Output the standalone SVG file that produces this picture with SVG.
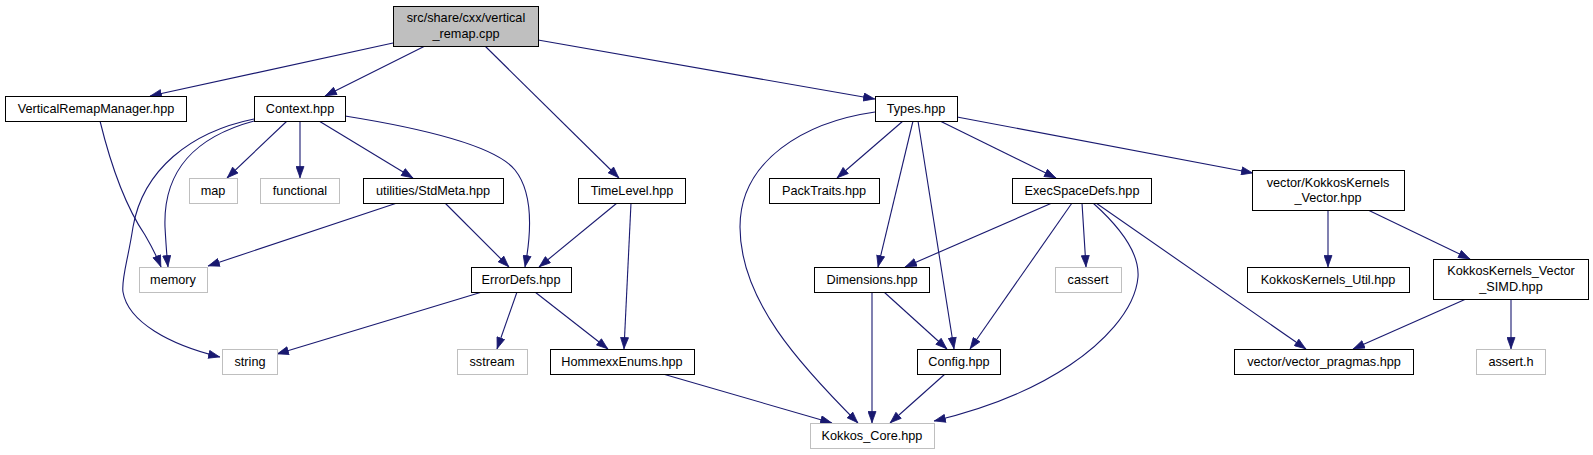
<svg xmlns="http://www.w3.org/2000/svg" width="1593" height="455" viewBox="0 0 1593 455">
<style>
.n rect{fill:#ffffff;stroke:#000000;stroke-width:1}
.n.g rect{stroke:#bfbfbf}
.n.root rect{fill:#bfbfbf}
.n text{font-family:"Liberation Sans",Arial,sans-serif;font-size:12.7px;fill:#000000;text-anchor:middle}
.e path{fill:none;stroke:#191970;stroke-width:1.1;marker-end:url(#ah)}
</style>
<defs>
<marker id="ah" viewBox="0 0 12 9" refX="12" refY="4.5" markerWidth="12" markerHeight="9" markerUnits="userSpaceOnUse" orient="auto">
<path d="M0.5,0.5 L11.5,4.5 L0.5,8.5 z" fill="#191970" stroke="#191970" stroke-width="0.8"/>
</marker>
</defs>
<rect width="1593" height="455" fill="#ffffff"/>
<g id="connectors" class="e">
<path d="M393,43 L150,96"/>
<path d="M425,46 L325,96"/>
<path d="M485,46 L619,178"/>
<path d="M538,40 L875,99"/>
<path d="M957,117 L1253,173"/>
<path d="M903,121 L837,178"/>
<path d="M875,112 C805,122 740,160 740,227 C740,300 800,365 858,423"/>
<path d="M913,121 L878,267"/>
<path d="M918,121 L954,349"/>
<path d="M940,121 L1056,178"/>
<path d="M287,121 L227,178"/>
<path d="M300,121 L300,178"/>
<path d="M319,121 L413,178"/>
<path d="M345,116 C420,128 495,145 515,170 C535,195 530,240 525,267"/>
<path d="M254,121 C195,137 163,170 165,227 C166,245 167,258 168,267"/>
<path d="M254,119 C190,132 143,170 133,227 C128,260 121,280 123,292 C128,322 170,345 220,357"/>
<path d="M100,121 C112,170 128,210 145,235 C152,247 157,257 161,267"/>
<path d="M397,203 L208,266"/>
<path d="M445,203 L509,267"/>
<path d="M617,203 L539,267"/>
<path d="M631,203 L624,349"/>
<path d="M482,292 L277,354"/>
<path d="M517,292 L497,349"/>
<path d="M535,292 L608,349"/>
<path d="M663,374 L832,423"/>
<path d="M872,292 L872,423"/>
<path d="M884,292 L947,349"/>
<path d="M945,374 L890,423"/>
<path d="M1052,203 L905,267"/>
<path d="M1072,203 L970,349"/>
<path d="M1082,203 L1086,267"/>
<path d="M1093,203 C1112,220 1140,248 1138,277 C1135,312 1100,345 1070,365 C1030,392 980,410 934,421"/>
<path d="M1096,203 L1306,349"/>
<path d="M1328,210 L1328,267"/>
<path d="M1368,210 L1470,259"/>
<path d="M1466,299 L1353,349"/>
<path d="M1511,299 L1511,349"/>
</g>
<g id="root" class="n root"><rect x="393.5" y="6.5" width="145" height="40"/><text x="466" y="22">src/share/cxx/vertical</text><text x="466" y="38">_remap.cpp</text></g>
<g id="VerticalRemapManager" class="n"><rect x="5.5" y="96.5" width="181" height="25"/><text x="96" y="113">VerticalRemapManager.hpp</text></g>
<g id="Context" class="n"><rect x="254.5" y="96.5" width="91" height="25"/><text x="300" y="113">Context.hpp</text></g>
<g id="Types" class="n"><rect x="875.5" y="96.5" width="82" height="25"/><text x="916" y="113">Types.hpp</text></g>
<g id="map" class="n g"><rect x="189.5" y="178.5" width="48" height="25"/><text x="213" y="195">map</text></g>
<g id="functional" class="n g"><rect x="260.5" y="178.5" width="79" height="25"/><text x="300" y="195">functional</text></g>
<g id="StdMeta" class="n"><rect x="363.5" y="178.5" width="140" height="25"/><text x="433" y="195">utilities/StdMeta.hpp</text></g>
<g id="TimeLevel" class="n"><rect x="578.5" y="178.5" width="107" height="25"/><text x="632" y="195">TimeLevel.hpp</text></g>
<g id="PackTraits" class="n"><rect x="769.5" y="178.5" width="110" height="25"/><text x="824" y="195">PackTraits.hpp</text></g>
<g id="ExecSpaceDefs" class="n"><rect x="1012.5" y="178.5" width="139" height="25"/><text x="1082" y="195">ExecSpaceDefs.hpp</text></g>
<g id="KokkosKernelsVector" class="n"><rect x="1252.5" y="170.5" width="152" height="40"/><text x="1328" y="186.5">vector/KokkosKernels</text><text x="1328" y="201.5">_Vector.hpp</text></g>
<g id="memory" class="n g"><rect x="139.5" y="267.5" width="68" height="25"/><text x="173" y="284">memory</text></g>
<g id="ErrorDefs" class="n"><rect x="471.5" y="267.5" width="100" height="25"/><text x="521" y="284">ErrorDefs.hpp</text></g>
<g id="Dimensions" class="n"><rect x="814.5" y="267.5" width="115" height="25"/><text x="872" y="284">Dimensions.hpp</text></g>
<g id="cassert" class="n g"><rect x="1055.5" y="267.5" width="66" height="25"/><text x="1088" y="284">cassert</text></g>
<g id="KokkosKernelsUtil" class="n"><rect x="1247.5" y="267.5" width="162" height="25"/><text x="1328" y="284">KokkosKernels_Util.hpp</text></g>
<g id="KokkosKernelsVectorSIMD" class="n"><rect x="1433.5" y="259.5" width="155" height="40"/><text x="1511" y="275">KokkosKernels_Vector</text><text x="1511" y="290.5">_SIMD.hpp</text></g>
<g id="string" class="n g"><rect x="222.5" y="349.5" width="55" height="25"/><text x="250" y="366">string</text></g>
<g id="sstream" class="n g"><rect x="457.5" y="349.5" width="70" height="25"/><text x="492" y="366">sstream</text></g>
<g id="HommexxEnums" class="n"><rect x="550.5" y="349.5" width="144" height="25"/><text x="622" y="366">HommexxEnums.hpp</text></g>
<g id="Config" class="n"><rect x="917.5" y="349.5" width="83" height="25"/><text x="959" y="366">Config.hpp</text></g>
<g id="vector_pragmas" class="n"><rect x="1234.5" y="349.5" width="179" height="25"/><text x="1324" y="366">vector/vector_pragmas.hpp</text></g>
<g id="assert_h" class="n g"><rect x="1476.5" y="349.5" width="69" height="25"/><text x="1511" y="366">assert.h</text></g>
<g id="Kokkos_Core" class="n g"><rect x="810.5" y="423.5" width="124" height="25"/><text x="872" y="440">Kokkos_Core.hpp</text></g>
</svg>
